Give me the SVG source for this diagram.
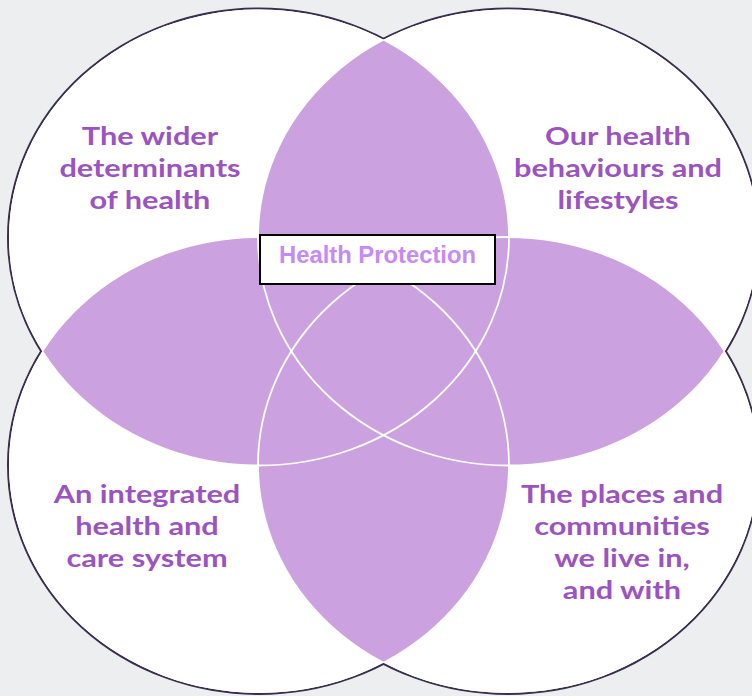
<svg xmlns="http://www.w3.org/2000/svg" width="752" height="696" viewBox="0 0 752 696">
<style>
.outline{fill:none;stroke:#3a2e4d;stroke-width:4}
.fillw{fill:#ffffff}
.purple{fill:#cba1e0}
.inner{fill:none;stroke:#ffffff;stroke-width:1.8}
.lbl{font-family:Lato,"Liberation Sans",sans-serif;font-weight:bold;font-size:24px;fill:#9b53c1;text-anchor:middle}
.hp{font-family:"Liberation Sans",Arial,sans-serif;font-weight:bold;font-size:23.8px;fill:#c68af6;text-anchor:middle}
</style>
<defs>
<ellipse id="eTL" cx="259" cy="237.5" rx="250" ry="228"/>
<ellipse id="eTR" cx="508" cy="237.5" rx="250" ry="228"/>
<ellipse id="eBL" cx="259" cy="465" rx="250" ry="228"/>
<ellipse id="eBR" cx="508" cy="465" rx="250" ry="228"/>
<clipPath id="cTR"><use href="#eTR"/></clipPath>
<clipPath id="cBL"><use href="#eBL"/></clipPath>
<clipPath id="cBR"><use href="#eBR"/></clipPath>
<clipPath id="cAll"><use href="#eTL"/><use href="#eTR"/><use href="#eBL"/><use href="#eBR"/></clipPath>
</defs>
<rect x="0" y="0" width="752" height="696" fill="#eceef0"/>
<g id="outlines">
<use href="#eTL" class="outline"/><use href="#eTR" class="outline"/><use href="#eBL" class="outline"/><use href="#eBR" class="outline"/>
</g>
<g id="fills">
<use href="#eTL" class="fillw"/><use href="#eTR" class="fillw"/><use href="#eBL" class="fillw"/><use href="#eBR" class="fillw"/>
</g>
<g id="overlaps">
<use href="#eTL" class="purple" clip-path="url(#cTR)"/>
<use href="#eTL" class="purple" clip-path="url(#cBL)"/>
<use href="#eTL" class="purple" clip-path="url(#cBR)"/>
<use href="#eBR" class="purple" clip-path="url(#cTR)"/>
<use href="#eBR" class="purple" clip-path="url(#cBL)"/>
<use href="#eTR" class="purple" clip-path="url(#cBL)"/>
</g>
<g id="connectors" clip-path="url(#cAll)">
<use href="#eTL" class="inner"/><use href="#eTR" class="inner"/><use href="#eBL" class="inner"/><use href="#eBR" class="inner"/>
</g>
<g id="node-wider" transform="translate(150,0) scale(1.28,1) translate(-150,0)">
<text class="lbl" x="150" y="145">The wider</text>
<text class="lbl" x="150" y="177">determinants</text>
<text class="lbl" x="150" y="209">of health</text>
</g>
<g id="node-behaviours" transform="translate(618,0) scale(1.28,1) translate(-618,0)">
<text class="lbl" x="618" y="145">Our health</text>
<text class="lbl" x="618" y="177">behaviours and</text>
<text class="lbl" x="618" y="209">lifestyles</text>
</g>
<g id="node-integrated" transform="translate(147,0) scale(1.28,1) translate(-147,0)">
<text class="lbl" x="147" y="503">An integrated</text>
<text class="lbl" x="147" y="535">health and</text>
<text class="lbl" x="147" y="567">care system</text>
</g>
<g id="node-places" transform="translate(622,0) scale(1.28,1) translate(-622,0)">
<text class="lbl" x="622" y="503">The places and</text>
<text class="lbl" x="622" y="535">communities</text>
<text class="lbl" x="622" y="567">we live in,</text>
<text class="lbl" x="622" y="599">and with</text>
</g>
<g id="node-health-protection">
<rect x="260" y="235" width="235" height="49" fill="#ffffff" stroke="#000000" stroke-width="2"/>
<text class="hp" x="377.5" y="263">Health Protection</text>
</g>
</svg>
